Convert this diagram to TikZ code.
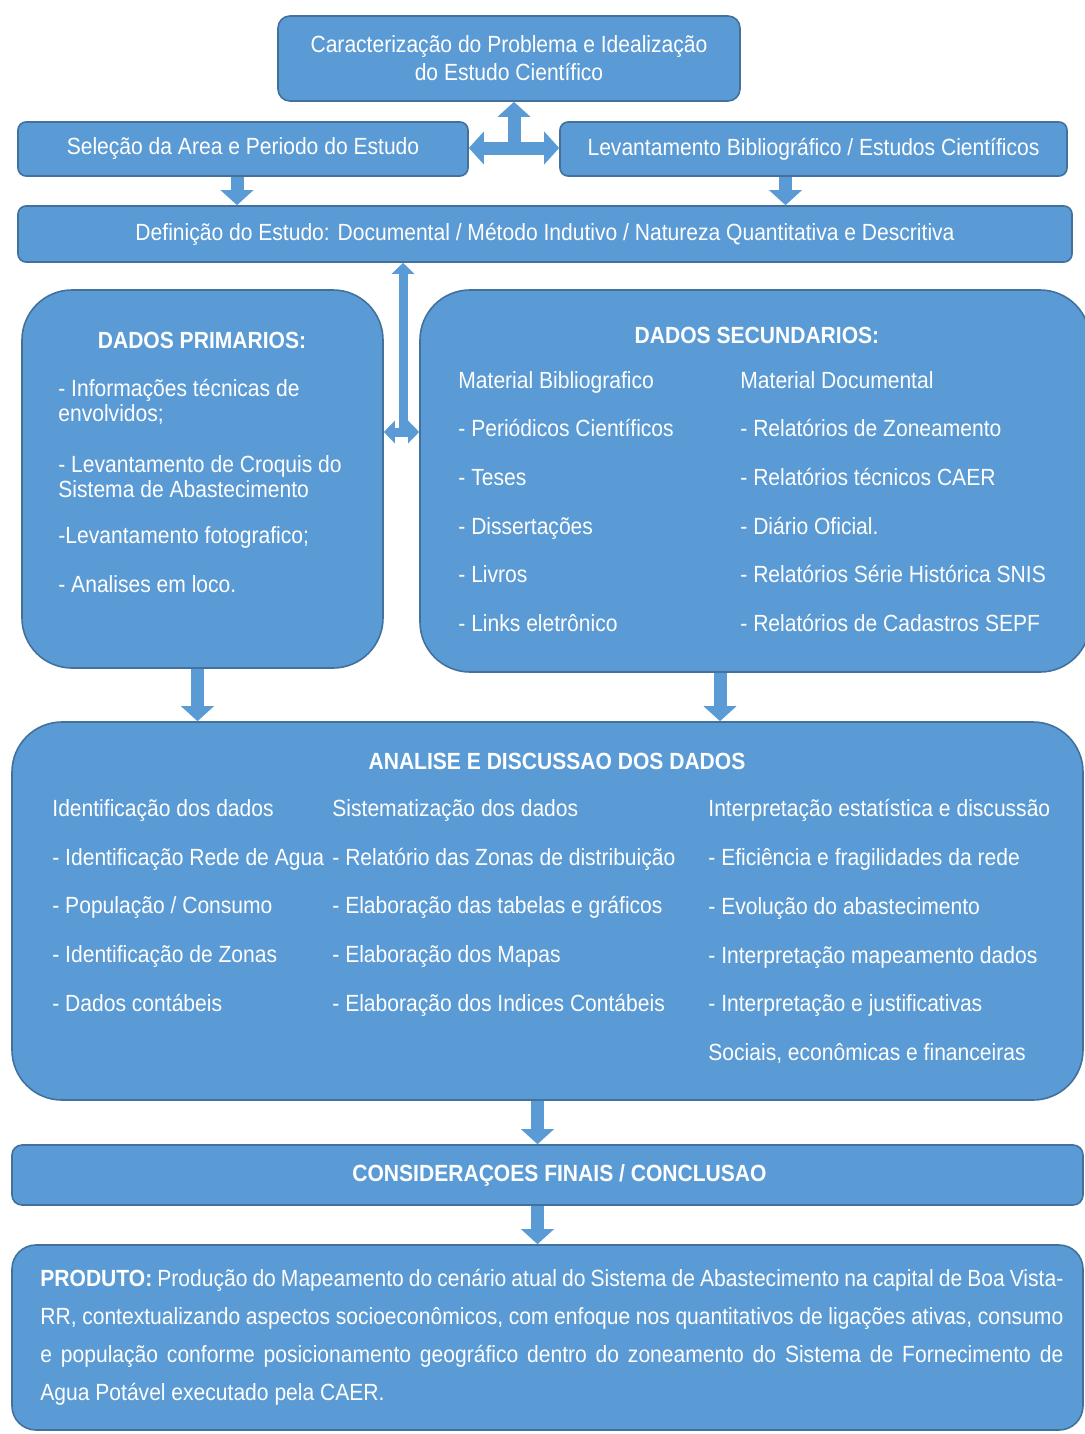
\documentclass[tikz,border=0pt]{standalone}
\usepackage{fontspec}
\setmainfont{Liberation Sans}[FakeStretch=0.9]
\usetikzlibrary{arrows.meta, positioning}
\definecolor{boxblue}{HTML}{5B9BD5}
\definecolor{boxedge}{HTML}{41719C}

\begin{document}
\begin{tikzpicture}[
    x=0.5pt, y=-0.5pt,
    box/.style={rectangle, draw=boxedge, line width=0.8pt, fill=boxblue,
                rounded corners=4pt, inner sep=0pt, text=white, align=center,
                font=\fontsize{11.7}{14}\selectfont},
    txt/.style={anchor=north west, inner sep=0pt, text=white, align=left},
    head/.style={inner sep=0pt, text=white, font=\fontsize{11.7}{14}\selectfont\bfseries},
    fat/.style={draw=boxblue, line width=6.5pt, -{Triangle[width=16pt,length=7.5pt]}},
    slim/.style={draw=boxblue, line width=4.5pt, -{Triangle[width=11pt,length=5.5pt]}},
]
\useasboundingbox (0,0) rectangle (1085,1434);

% top blocks
\node[box, rounded corners=6pt, minimum width=231pt, minimum height=42.5pt] (prob) at (509,58.5)
    {Caracterização do Problema e Idealização\\do Estudo Científico};
\node[box, minimum width=225pt, minimum height=27pt] (sel) at (243,149)
    {Seleção da Area e Periodo do Estudo};
\node[box, minimum width=253.5pt, minimum height=27pt] (lev) at (813.5,149)
    {Levantamento Bibliográfico / Estudos Científicos};
\node[box, minimum width=527pt, minimum height=28pt] (def) at (545,234)
    {Definição do Estudo: Documental / Método Indutivo / Natureza Quantitativa e Descritiva};

% data blocks
\node[box, rounded corners=25pt, minimum width=180.5pt, minimum height=189pt] (prim) at (202.5,479) {};
\node[box, rounded corners=25pt, minimum width=335pt, minimum height=191pt] (sec) at (755,481) {};
\node[box, rounded corners=25pt, minimum width=535.5pt, minimum height=189pt] (anal) at (547.5,911) {};
\node[box, rounded corners=5pt, minimum width=535.5pt, minimum height=30pt,
      font=\fontsize{11.7}{14}\selectfont\bfseries] (cons) at (547.5,1175)
    {\hspace*{12pt}CONSIDERAÇOES FINAIS / CONCLUSAO};
\node[box, rounded corners=12pt, minimum width=535.5pt, minimum height=92.5pt] (prod) at (547.5,1337.5) {};

% texts of the data blocks
\node[head] (primhead) at (202,340) {DADOS PRIMARIOS:};
\node[txt, font=\fontsize{11.7}{12.5}\selectfont] (primlist) at (58,379)
    {- Informações técnicas de\\envolvidos;\\[13pt]
     - Levantamento de Croquis do\\Sistema de Abastecimento\\[10.5pt]
     -Levantamento fotografico;\\[12pt]
     - Analises em loco.};

\node[head] (sechead) at (757,335) {DADOS SECUNDARIOS:};
\node[txt, font=\fontsize{11.7}{24.3}\selectfont] (secbib) at (458,371)
    {Material Bibliografico\\- Periódicos Científicos\\- Teses\\- Dissertações\\- Livros\\- Links eletrônico};
\node[txt, font=\fontsize{11.7}{24.3}\selectfont] (secdoc) at (740,371)
    {Material Documental\\- Relatórios de Zoneamento\\- Relatórios técnicos CAER\\- Diário Oficial.\\- Relatórios Série Histórica SNIS\\- Relatórios de Cadastros SEPF};

\node[head] (analhead) at (557,761) {ANALISE E DISCUSSAO DOS DADOS};
\node[txt, font=\fontsize{11.7}{24.4}\selectfont] (analid) at (52,799)
    {Identificação dos dados\\- Identificação Rede de Agua\\- População / Consumo\\- Identificação de Zonas\\- Dados contábeis};
\node[txt, font=\fontsize{11.7}{24.4}\selectfont] (analsis) at (332,799)
    {Sistematização dos dados\\- Relatório das Zonas de distribuição\\- Elaboração das tabelas e gráficos\\- Elaboração dos Mapas\\- Elaboração dos Indices Contábeis};
\node[txt, font=\fontsize{11.7}{24.4}\selectfont] (analint) at (708,799)
    {Interpretação estatística e discussão\\- Eficiência e fragilidades da rede\\- Evolução do abastecimento\\- Interpretação mapeamento dados\\- Interpretação e justificativas\\Sociais, econômicas e financeiras};

\node[txt, text width=511.5pt, align=justify, font=\fontsize{11.7}{19}\selectfont] (prodtext) at (40,1269)
    {\textbf{PRODUTO:} Produção do Mapeamento do cenário atual do Sistema de Abastecimento na capital de Boa Vista-\linebreak
     RR, contextualizando aspectos socioeconômicos, com enfoque nos quantitativos de ligações ativas, consumo\linebreak
     e população conforme posicionamento geográfico dentro do zoneamento do Sistema de Fornecimento de\linebreak
     Agua Potável executado pela CAER.};

% connectors
\coordinate (hub) at (514,148);
\coordinate (tee) at (403,432);
\draw[fat, {Triangle[width=16pt,length=7.5pt]}-{Triangle[width=16pt,length=7.5pt]}] (hub -| sel.east) -- (hub -| lev.west);
\draw[fat] (hub) -- (hub |- prob.south);
\draw[fat] ([xshift=-3pt]sel.south) -- ([xshift=-3pt]sel.south |- def.north);
\draw[fat] ([xshift=-14pt]lev.south) -- ([xshift=-14pt]lev.south |- def.north);
\draw[slim, {Triangle[width=11pt,length=5.5pt]}-{Triangle[width=11pt,length=5.5pt]}] (tee -| prim.east) -- (tee -| sec.west);
\draw[slim] (tee) -- (tee |- def.south);
\draw[fat] ([xshift=-2.5pt]prim.south) -- ([xshift=-2.5pt]prim.south |- anal.north);
\draw[fat] ([xshift=-17.5pt]sec.south) -- ([xshift=-17.5pt]sec.south |- anal.north);
\draw[fat] ([xshift=-5pt]anal.south) -- ([xshift=-5pt]anal.south |- cons.north);
\draw[fat] ([xshift=-5pt]cons.south) -- ([xshift=-5pt]cons.south |- prod.north);
\end{tikzpicture}
\end{document}
